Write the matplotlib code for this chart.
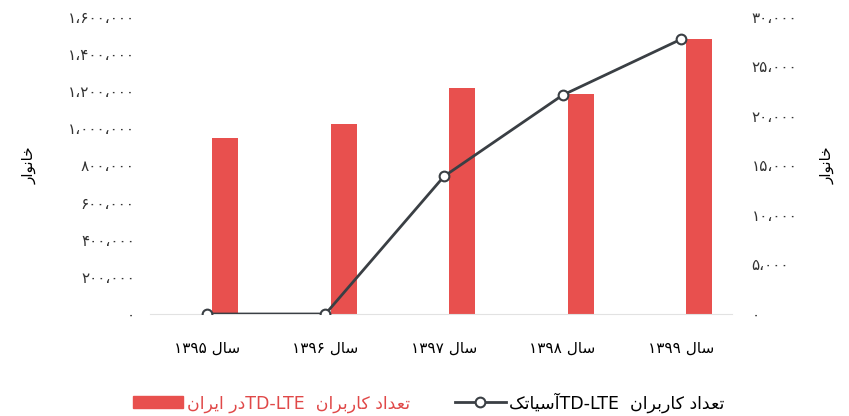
import matplotlib
matplotlib.use('Agg')
import matplotlib.pyplot as plt
import numpy as np
from matplotlib.patches import Patch
from matplotlib.lines import Line2D

# data
years = ['۱۳۹۵', '۱۳۹۶', '۱۳۹۷', '۱۳۹۸', '۱۳۹۹']
iran_users = [946000, 1024000, 1216000, 1184000, 1480000]      # bars, left axis
asiatech_users = [0, 0, 13900, 22100, 27750]                     # line, right axis
left_ticks = [0, 200000, 400000, 600000, 800000, 1000000, 1200000, 1400000, 1600000]
right_ticks = [0, 5000, 10000, 15000, 20000, 25000, 30000]

# minimal persian shaping (isolated, final, initial, medial)
FORMS = {
    'ا': ('\uFE8D', '\uFE8E', None, None),
    'آ': ('\uFE81', '\uFE82', None, None),
    'ب': ('\uFE8F', '\uFE90', '\uFE91', '\uFE92'),
    'ت': ('\uFE95', '\uFE96', '\uFE97', '\uFE98'),
    'خ': ('\uFEA5', '\uFEA6', '\uFEA7', '\uFEA8'),
    'د': ('\uFEA9', '\uFEAA', None, None),
    'ر': ('\uFEAD', '\uFEAE', None, None),
    'س': ('\uFEB1', '\uFEB2', '\uFEB3', '\uFEB4'),
    'ع': ('\uFEC9', '\uFECA', '\uFECB', '\uFECC'),
    'ل': ('\uFEDD', '\uFEDE', '\uFEDF', '\uFEE0'),
    'ن': ('\uFEE5', '\uFEE6', '\uFEE7', '\uFEE8'),
    'و': ('\uFEED', '\uFEEE', None, None),
    'ی': ('\uFBFC', '\uFBFD', '\uFBFE', '\uFBFF'),
    'ک': ('\uFB8E', '\uFB8F', '\uFB90', '\uFB91'),
}


def rtl(text):
    out = []
    for i, ch in enumerate(text):
        f = FORMS.get(ch)
        if f is None:
            out.append(ch)
            continue
        prev = text[i - 1] if i > 0 else None
        nxt = text[i + 1] if i < len(text) - 1 else None
        jp = prev in FORMS and FORMS[prev][2] is not None
        jn = nxt in FORMS and f[2] is not None
        if jp and jn:
            out.append(f[3])
        elif jp:
            out.append(f[1])
        elif jn:
            out.append(f[2])
        else:
            out.append(f[0])
    return ''.join(reversed(out))


def fa_num(v):
    s = '{:,}'.format(int(v)).replace(',', '،')
    return s.translate(str.maketrans('0123456789', '۰۱۲۳۴۵۶۷۸۹'))


bar_color = '#e8504e'
line_color = '#3a3f44'

fig = plt.figure(figsize=(8.49, 4.16), dpi=100)
ax = fig.add_axes([0.1767, 0.2452, 0.6855, 0.714])
ax2 = ax.twinx()

x = np.arange(len(years))
ax.bar(x + 0.155, iran_users, width=0.22, color=bar_color, zorder=2)
ax2.plot(x, asiatech_users, color=line_color, lw=2, marker='o', ms=7,
         mfc='white', mec=line_color, mew=1.5, zorder=3)

ax.set_xlim(-0.48, 4.43)
ax.set_ylim(0, 1600000)
ax2.set_ylim(0, 30000)

ax.set_xticks(x)
ax.set_xticklabels([y + ' ' + rtl('سال') for y in years], fontsize=11)
ax.set_yticks(left_ticks)
ax.set_yticklabels([fa_num(v) for v in left_ticks], fontsize=11, color='#333333')
ax2.set_yticks(right_ticks)
ax2.set_yticklabels([fa_num(v) for v in right_ticks], fontsize=11, color='#333333')

for a in (ax, ax2):
    for s in a.spines.values():
        s.set_visible(False)
ax.spines['bottom'].set_visible(True)
ax.spines['bottom'].set_color('#e2e2e2')

ax.tick_params(axis='x', length=0, pad=19)
ax.tick_params(axis='y', length=0, pad=11)
ax2.tick_params(axis='y', length=0, pad=14)

ax.set_ylabel(rtl('خانوار'), fontsize=11)
ax.yaxis.set_label_coords(-0.195, 0.5)
ax2.set_ylabel(rtl('خانوار'), fontsize=11, rotation=90)
ax2.yaxis.set_label_coords(1.15, 0.5)

handles = [Patch(color=bar_color),
           Line2D([], [], color=line_color, lw=2, marker='o', ms=7,
                  mfc='white', mec=line_color, mew=1.5)]
labels = [rtl('در ایران') + 'TD-LTE  ' + rtl('تعداد کاربران'),
          rtl('آسیاتک') + 'TD-LTE  ' + rtl('تعداد کاربران')]
leg = fig.legend(handles, labels, loc='center', bbox_to_anchor=(0.505, 0.033),
                 ncol=2, frameon=False, fontsize=12.5, handlelength=2.9,
                 handletextpad=0.2, columnspacing=2.6)
leg.get_texts()[0].set_color('#e04848')

fig.savefig('out.png', dpi=100)
